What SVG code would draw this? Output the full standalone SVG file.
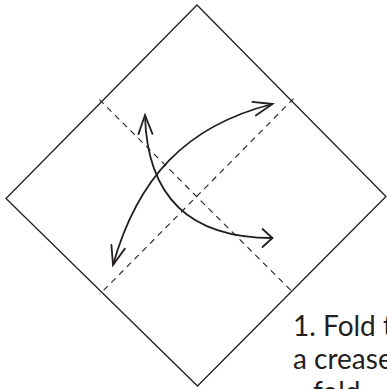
<svg xmlns="http://www.w3.org/2000/svg" width="387" height="389" viewBox="0 0 387 389">
<style>
.paper{fill:#fff;stroke:#231f20;stroke-width:1.3;stroke-linejoin:miter}
.crease{fill:none;stroke:#231f20;stroke-width:1.1;stroke-dasharray:6 5}
.arrow{fill:none;stroke:#231f20;stroke-width:1.8}
.head{fill:none;stroke:#231f20;stroke-width:1.8;stroke-linecap:round;stroke-linejoin:miter}
.label{font-family:Lato,"Open Sans",sans-serif;font-size:28px;fill:#231f20}
</style>
<defs>
<marker id="narrow" markerUnits="userSpaceOnUse" markerWidth="40" markerHeight="40" refX="0" refY="0" viewBox="-25 -20 40 40" orient="auto-start-reverse" overflow="visible">
<path class="head" d="M-19,-7 L0,0 L-19,7"/>
</marker>
<marker id="wide" markerUnits="userSpaceOnUse" markerWidth="40" markerHeight="40" refX="0" refY="0" viewBox="-25 -20 40 40" orient="auto" overflow="visible">
<path class="head" d="M-10,-9 L0,0 L-10,9"/>
</marker>
</defs>
<rect width="387" height="389" fill="#fff"/>
<g id="paper">
<polygon class="paper" points="197,5 386,196.5 197.5,386 6,198.5"/>
</g>
<g id="creases">
<line class="crease" x1="99.4" y1="99.6" x2="293.9" y2="293.4"/>
<line class="crease" x1="293.6" y1="98.6" x2="99.6" y2="294.4"/>
</g>
<g id="connectors">
<path class="arrow" d="M113,265 C137.3,178.6 185.2,126 272.5,104" marker-start="url(#narrow)" marker-end="url(#narrow)"/>
<path class="arrow" d="M145,115 Q148,238 272.5,238" marker-start="url(#narrow)" marker-end="url(#wide)"/>
</g>
<g id="caption">
<text class="label" x="293" y="336">1. Fold t</text>
<text class="label" x="293" y="369">a crease</text>
<text class="label" x="313" y="402">fold</text>
</g>
</svg>
